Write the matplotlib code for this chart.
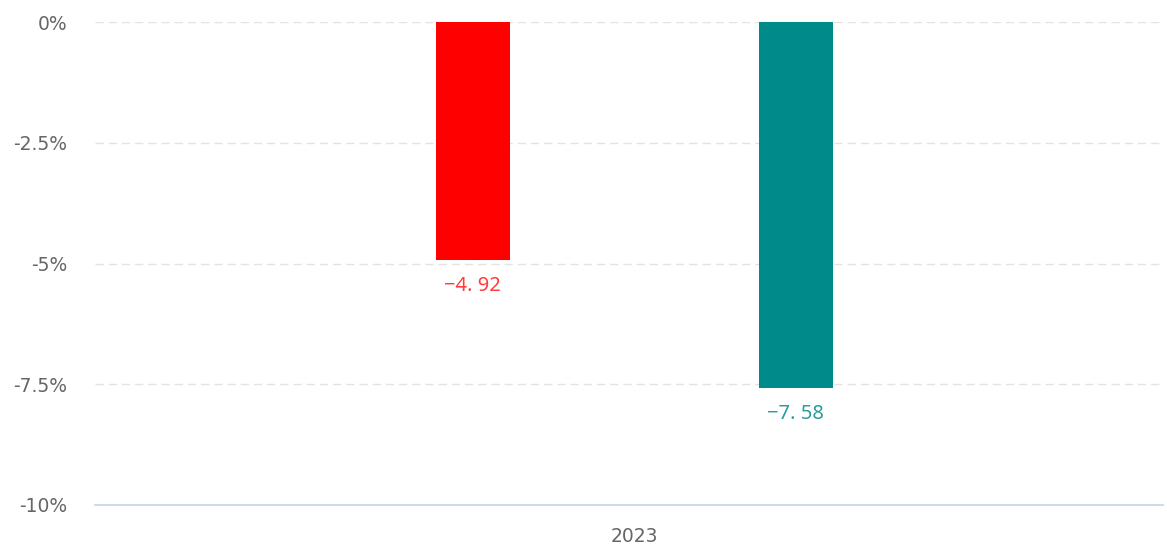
import matplotlib.pyplot as plt
import matplotlib.ticker as mticker

# chart data
categories = ['2023']
series_a = [-4.92]
series_b = [-7.58]
y_ticks = [0, -2.5, -5, -7.5, -10]

COLOR_A = '#ff0000'
COLOR_B = '#008b8a'
LABEL_A = '#ff3b3b'
LABEL_B = '#2a9d9a'

W, H = 1167, 544
fig = plt.figure(figsize=(W / 100, H / 100), dpi=100)
ax = fig.add_axes([95 / W, (H - 505) / H, (1163 - 95) / W, (505 - 22) / H])

bar_w = 74 / 1068
off = 161.5 / 1068
x0 = 0.005
ax.bar([x0 - off], series_a, width=bar_w, color=COLOR_A, zorder=3)
ax.bar([x0 + off], series_b, width=bar_w, color=COLOR_B, zorder=3)

# value labels under the bars
for x, v, c in [(x0 - off, series_a[0], LABEL_A), (x0 + off, series_b[0], LABEL_B)]:
    ax.annotate(f'\u2212{abs(v):.2f}'.replace('.', '. '), (x, v), xytext=(0, -26),
                textcoords='offset pixels', ha='center', va='center',
                color=c, fontsize=14.5, family='Noto Sans')

ax.set_xlim(-0.5, 0.5)
ax.set_ylim(-10, 0)
ax.set_yticks(y_ticks)
ax.yaxis.set_major_formatter(mticker.FuncFormatter(lambda v, p: f'{v:g}%'))
ax.set_xticks([x0])
ax.set_xticklabels(categories)

ax.grid(axis='y', color='#e3e3e3', linestyle=(0, (6, 3.5)), linewidth=1, zorder=0)
for s in ['top', 'right', 'left']:
    ax.spines[s].set_visible(False)
ax.spines['bottom'].set_color('#c6d2ea')
ax.spines['bottom'].set_linewidth(1.2)
ax.spines['bottom'].set_zorder(4)
ax.tick_params(axis='both', length=0, colors='#666666', labelsize=13.5)
ax.tick_params(axis='y', pad=20)
ax.tick_params(axis='x', pad=16)
for t in ax.get_yticklabels() + ax.get_xticklabels():
    t.set_family('DejaVu Sans')

fig.savefig('out.png', dpi=100)
